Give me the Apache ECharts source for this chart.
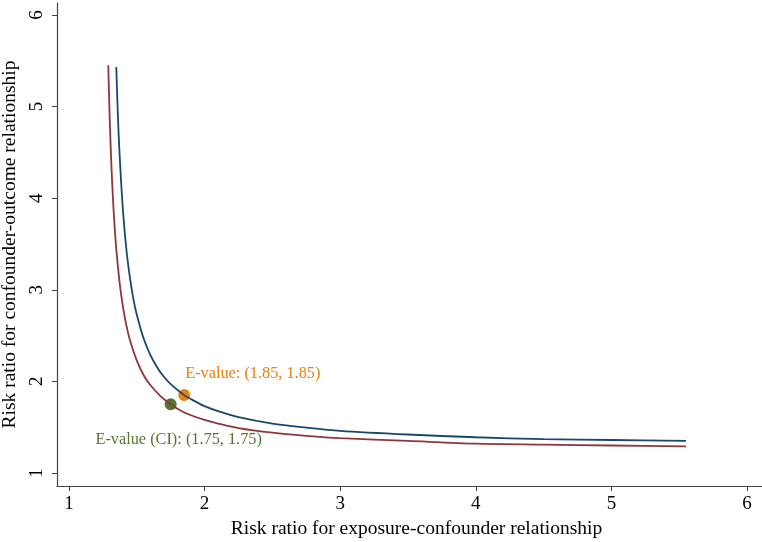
<!DOCTYPE html>
<html>
<head>
    <meta charset="utf-8">
    <title>E-value plot</title>
    <script src="https://cdn.jsdelivr.net/npm/echarts@6/dist/echarts.min.js"></script>
    <style>
        html, body { margin: 0; padding: 0; background: #fff; }
        #chart { width: 762px; height: 542px; }
    </style>
</head>
<body>
    <div id="chart"></div>
    <script>
        // points
        const estX = [1.349, 1.36, 1.37, 1.385, 1.40, 1.425, 1.45, 1.475, 1.5, 1.55, 1.6, 1.65, 1.7, 1.75, 1.85, 1.92, 2.0, 2.1, 2.25, 2.5, 2.75, 3.0, 3.5, 4.0, 4.5, 5.0, 5.55];
        const estY = [5.43, 4.94, 4.58, 4.17, 3.83, 3.42, 3.13, 2.90, 2.73, 2.47, 2.29, 2.155, 2.05, 1.97, 1.85, 1.79, 1.73, 1.675, 1.61, 1.54, 1.496, 1.46, 1.42, 1.39, 1.37, 1.36, 1.35];
        const ciX = [1.29, 1.30, 1.31, 1.32, 1.33, 1.34, 1.35, 1.375, 1.40, 1.425, 1.45, 1.5, 1.55, 1.6, 1.675, 1.75, 1.825, 1.9, 2.0, 2.1, 2.25, 2.5, 2.75, 3.0, 3.5, 4.0, 4.5, 5.0, 5.55];
        const ciY = [5.45, 4.90, 4.47, 4.13, 3.85, 3.62, 3.43, 3.06, 2.80, 2.60, 2.45, 2.23, 2.07, 1.96, 1.84, 1.75, 1.68, 1.63, 1.58, 1.54, 1.49, 1.44, 1.406, 1.38, 1.35, 1.32, 1.31, 1.30, 1.29];
        const evalPoint = [1.85, 1.85];
        const ciPoint = [1.75, 1.75];
        const ticks = [1, 2, 3, 4, 5, 6];

        const font = '"Liberation Serif", "Times New Roman", serif';
        const pair = (xs, ys) => xs.map((x, i) => [x, ys[i]]);

        const chart = echarts.init(document.getElementById('chart'));
        const axisLine = { show: true, lineStyle: { color: '#444', width: 1.2 } };

        chart.setOption({
            animation: false,
            grid: { left: 57, right: 0, top: 3, bottom: 56, outerBoundsMode: 'none', containLabel: false },
            xAxis: {
                type: 'value', min: 0.912, max: 6.11,
                name: 'Risk ratio for exposure-confounder relationship',
                nameLocation: 'middle', nameGap: 33,
                nameTextStyle: { fontFamily: font, fontSize: 19.5, color: '#000', padding: [0, 0, 0, 14] },
                axisLine: axisLine,
                axisTick: { show: true, length: 5, lineStyle: { color: '#444' }, customValues: ticks },
                axisLabel: { fontFamily: font, fontSize: 19, color: '#000', margin: 9, customValues: ticks },
                splitLine: { show: false }
            },
            yAxis: {
                type: 'value', min: 0.858, max: 6.13,
                name: 'Risk ratio for confounder-outcome relationship',
                nameLocation: 'middle', nameRotate: 90, nameGap: 37,
                nameTextStyle: { fontFamily: font, fontSize: 19.5, color: '#000' },
                axisLine: axisLine,
                axisTick: { show: true, length: 5, lineStyle: { color: '#444' }, customValues: ticks },
                axisLabel: { fontFamily: font, fontSize: 19, color: '#000', margin: 10, rotate: 90, customValues: ticks },
                splitLine: { show: false }
            },
            series: [
                {
                    type: 'line', data: pair(ciX, ciY), smooth: 0.3, showSymbol: false,
                    lineStyle: { color: '#90353b', width: 1.8 }
                },
                {
                    type: 'line', data: pair(estX, estY), smooth: 0.3, showSymbol: false,
                    lineStyle: { color: '#1a476f', width: 1.8 }
                },
                {
                    type: 'scatter', data: [evalPoint], symbolSize: 12,
                    itemStyle: { color: '#e8800f', opacity: 1 },
                    label: {
                        show: true, position: 'inside', align: 'left', offset: [1, -21],
                        formatter: 'E-value: (1.85, 1.85)',
                        fontFamily: font, fontSize: 16.3, color: '#e8800f'
                    }
                },
                {
                    type: 'scatter', data: [ciPoint], symbolSize: 12,
                    itemStyle: { color: '#55752f', opacity: 1 },
                    label: {
                        show: true, position: 'inside', align: 'center', offset: [8, 35],
                        formatter: 'E-value (CI): (1.75, 1.75)',
                        fontFamily: font, fontSize: 16.3, color: '#55752f'
                    }
                }
            ]
        });
    </script>
</body>
</html>
